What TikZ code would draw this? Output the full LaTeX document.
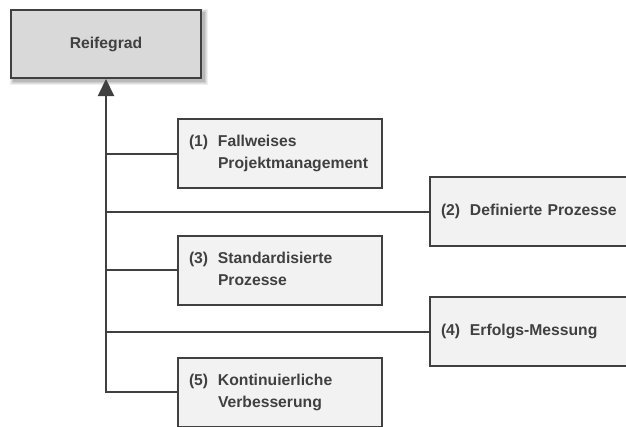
\documentclass[tikz,border=0pt]{standalone}
\usepackage{fontspec}
\setmainfont{Liberation Sans}
\usetikzlibrary{arrows.meta}
\definecolor{ink}{HTML}{404040}
\definecolor{headfill}{HTML}{D9D9D9}
\definecolor{itemfill}{HTML}{F2F2F2}
\newcommand{\steplabel}[2]{\begin{tabular}{@{}p{29bp}@{}l@{}}#1 & #2\end{tabular}}
\begin{document}
\begin{tikzpicture}[x=1bp,y=-1bp,
  every node/.style={font=\fontsize{15.7bp}{22bp}\selectfont\bfseries, text=ink},
  headbox/.style={draw=ink, line width=2bp, fill=headfill, minimum width=190bp, minimum height=68bp, inner sep=0pt},
  itembox/.style={draw=ink, line width=2bp, fill=itemfill, text width=182bp, inner xsep=11bp, minimum height=69bp, align=left},
  wideitem/.style={itembox, text width=190bp},
  link/.style={draw=ink, line width=2bp}]
\useasboundingbox (0,0) rectangle (626,426);
\clip (0,0) rectangle (626,426);

% soft shadow under the heading box
\foreach \g/\o in {3/0.06,2/0.07,1/0.08,0/0.1}
  \fill[black, opacity=\o] (13-\g,12-\g) rectangle (205+\g,82+\g);

\node[headbox, anchor=north west] (head) at (10,9) {Reifegrad};

\node[itembox, anchor=west] (s1) at (177,153.5) {\steplabel{(1)}{Fallweises\\ & Projektmanagement}};
\node[wideitem, anchor=west] (s2) at (429,211.5) {\steplabel{(2)}{Definierte Prozesse}};
\node[itembox, anchor=west] (s3) at (177,270) {\steplabel{(3)}{Standardisierte\\ & Prozesse}};
\node[wideitem, anchor=west] (s4) at (429,331.5) {\steplabel{(4)}{Erfolgs-Messung}};
\node[itembox, anchor=west] (s5) at (177,392) {\steplabel{(5)}{Kontinuierliche\\ & Verbesserung}};

% trunk with arrow into the heading box
\draw[link, -{Triangle[length=17bp,width=16bp]}] (s5.west) -| (head.south);
% branches to the levels
\foreach \s in {s1,s2,s3,s4}
  \draw[link] (\s.west) -- (\s.west -| head.south);
\end{tikzpicture}
\end{document}
